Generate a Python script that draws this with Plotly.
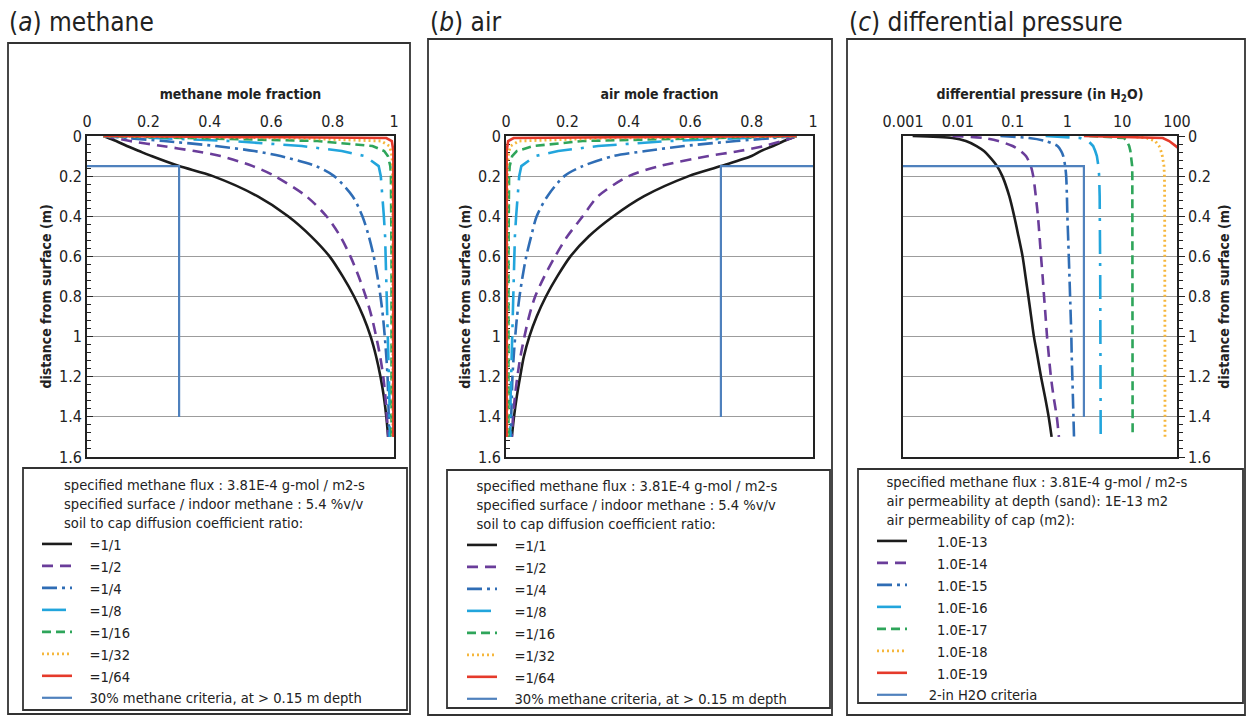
import plotly.graph_objects as go

W, H = 1250, 716

# ---------------- data ----------------
depth = [0, 0.01, 0.025, 0.05, 0.075, 0.1, 0.15, 0.2, 0.3, 0.4, 0.5,
         0.6, 0.7, 0.8, 0.9, 1.0, 1.1, 1.2, 1.3, 1.4, 1.5]

ratio_labels = ["=1/1", "=1/2", "=1/4", "=1/8", "=1/16", "=1/32", "=1/64"]
perm_labels = ["1.0E-13", "1.0E-14", "1.0E-15", "1.0E-16", "1.0E-17", "1.0E-18", "1.0E-19"]

# (a) methane mole fraction
ch4_r1 = [0.054, 0.07, 0.095, 0.13, 0.17, 0.21, 0.30, 0.41, 0.555, 0.655, 0.73,
          0.79, 0.833, 0.87, 0.90, 0.924, 0.942, 0.956, 0.967, 0.975, 0.981]
ch4_r2 = [0.054, 0.09, 0.14, 0.245, 0.35, 0.435, 0.54, 0.612, 0.714, 0.78, 0.825,
          0.858, 0.885, 0.908, 0.927, 0.942, 0.955, 0.965, 0.972, 0.977, 0.981]
ch4_r4 = [0.054, 0.13, 0.25, 0.42, 0.545, 0.63, 0.745, 0.805, 0.865, 0.897, 0.918,
          0.934, 0.946, 0.956, 0.964, 0.97, 0.975, 0.979, 0.981, 0.983, 0.984]
ch4_r8 = [0.054, 0.22, 0.47, 0.70, 0.83, 0.905, 0.95, 0.957, 0.963, 0.967, 0.971,
          0.973, 0.975, 0.977, 0.979, 0.98, 0.982, 0.983, 0.985, 0.986, 0.987]
ch4_r16 = [0.054, 0.36, 0.75, 0.93, 0.968, 0.98, 0.988, 0.99, 0.991, 0.991, 0.992,
           0.992, 0.992, 0.992, 0.992, 0.992, 0.992, 0.992, 0.992, 0.992, 0.992]
ch4_r32 = [0.054, 0.66, 0.958, 0.985, 0.99, 0.993, 0.995, 0.996, 0.996, 0.996, 0.996,
           0.996, 0.996, 0.996, 0.996, 0.996, 0.996, 0.996, 0.996, 0.996, 0.996]
ch4_r64 = [0.054, 0.975, 0.993, 0.996, 0.998, 0.998, 0.998, 0.998, 0.998, 0.998, 0.998,
           0.998, 0.998, 0.998, 0.998, 0.998, 0.998, 0.998, 0.998, 0.998, 0.998]

# (b) air mole fraction
air_r1 = [0.946, 0.93, 0.905, 0.87, 0.83, 0.80, 0.70, 0.595, 0.45, 0.35, 0.27,
          0.21, 0.167, 0.13, 0.10, 0.076, 0.058, 0.046, 0.035, 0.026, 0.019]
air_r2 = [0.946, 0.93, 0.90, 0.84, 0.76, 0.66, 0.50, 0.40, 0.30, 0.25, 0.20,
          0.16, 0.125, 0.095, 0.075, 0.06, 0.047, 0.037, 0.029, 0.023, 0.019]
air_r4 = [0.946, 0.87, 0.75, 0.58, 0.455, 0.35, 0.25, 0.19, 0.135, 0.10, 0.082,
          0.066, 0.054, 0.044, 0.036, 0.03, 0.025, 0.021, 0.019, 0.017, 0.016]
air_r8 = [0.946, 0.78, 0.53, 0.30, 0.17, 0.095, 0.05, 0.043, 0.037, 0.033, 0.029,
          0.027, 0.025, 0.023, 0.021, 0.02, 0.018, 0.017, 0.015, 0.014, 0.013]
air_r16 = [0.946, 0.64, 0.25, 0.09, 0.035, 0.02, 0.012, 0.01, 0.009, 0.009, 0.008,
           0.008, 0.008, 0.008, 0.008, 0.008, 0.008, 0.008, 0.008, 0.008, 0.008]
air_r32 = [0.946, 0.34, 0.042, 0.015, 0.01, 0.007, 0.005, 0.004, 0.004, 0.004, 0.004,
           0.004, 0.004, 0.004, 0.004, 0.004, 0.004, 0.004, 0.004, 0.004, 0.004]
air_r64 = [0.946, 0.025, 0.007, 0.004, 0.002, 0.002, 0.002, 0.002, 0.002, 0.002, 0.002,
           0.002, 0.002, 0.002, 0.002, 0.002, 0.002, 0.002, 0.002, 0.002, 0.002]

# (c) differential pressure (in H2O)
dp_k13 = [0.0015, 0.008, 0.014, 0.022, 0.030, 0.037, 0.052, 0.065, 0.087, 0.107, 0.128,
          0.152, 0.172, 0.194, 0.218, 0.245, 0.285, 0.33, 0.39, 0.455, 0.515]
dp_k14 = [0.008, 0.03, 0.055, 0.10, 0.14, 0.175, 0.215, 0.238, 0.265, 0.29, 0.31,
          0.33, 0.353, 0.375, 0.40, 0.425, 0.46, 0.50, 0.56, 0.64, 0.70]
dp_k15 = [0.06, 0.2, 0.4, 0.66, 0.77, 0.84, 0.91, 0.95, 0.98, 1.0, 1.03,
          1.06, 1.09, 1.12, 1.15, 1.18, 1.2, 1.23, 1.26, 1.29, 1.32]
dp_k16 = [0.4, 1.7, 2.4, 2.95, 3.22, 3.45, 3.68, 3.8, 3.88, 3.93, 3.95,
          3.96, 3.97, 3.98, 3.99, 4.0, 4.01, 4.02, 4.03, 4.04, 4.05]
dp_k17 = [2.5, 10.8, 12.2, 13.4, 14.1, 14.6, 15.2, 15.3, 15.35, 15.4, 15.4,
          15.4, 15.45, 15.45, 15.45, 15.5, 15.5, 15.5, 15.5, 15.5, 15.5]
dp_k18 = [12, 28, 40, 47, 51, 54, 57.8, 59, 59.5, 59.8, 60,
          60.1, 60.1, 60.2, 60.2, 60.2, 60.3, 60.3, 60.3, 60.4, 60.4]
dp_k19 = [2, 55, 72, 97, 125, None, None, None, None, None, None,
          None, None, None, None, None, None, None, None, None, None]

# criteria lines
crit_a_x = [0, 0.3, 0.3]
crit_b_x = [1.0, 0.7, 0.7]
crit_c_x = [0.001, 2, 2]
crit_depth = [0.15, 0.15, 1.4]

# ---------------- styles ----------------
styles = [
    dict(color="#1c1c1c", dash="solid", width=2.6),
    dict(color="#6a3d9a", dash="11px,7px", width=2.6),
    dict(color="#2f6db5", dash="15px,5px,3px,5px", width=2.6),
    dict(color="#22a5dc", dash="24px,9px,3px,9px", width=2.6),
    dict(color="#2ea55a", dash="9px,5px", width=2.6),
    dict(color="#f6b73c", dash="2px,3px", width=2.8),
    dict(color="#e53a2b", dash="solid", width=2.6),
]
smooth = [True, True, True, False, False, False, False]
crit_style = dict(color="#4f81bd", width=2.2)

FONT = "DejaVu Sans Condensed, Liberation Sans, Arial, sans-serif"
TXT = "#222222"
NB = "&nbsp;"

fig = go.Figure()

ch4 = [ch4_r1, ch4_r2, ch4_r4, ch4_r8, ch4_r16, ch4_r32, ch4_r64]
air = [air_r1, air_r2, air_r4, air_r8, air_r16, air_r32, air_r64]
dps = [dp_k13, dp_k14, dp_k15, dp_k16, dp_k17, dp_k18, dp_k19]


def line_of(i):
    d = dict(styles[i])
    if smooth[i]:
        d["shape"] = "spline"
        d["smoothing"] = 0.8
    return d


crit_ab_name = NB * 3 + "30% methane criteria, at &gt; 0.15 m depth"

for i, vals in enumerate(ch4):
    fig.add_trace(go.Scatter(x=vals, y=depth, mode="lines", name=NB * 3 + ratio_labels[i],
                             line=line_of(i), xaxis="x", yaxis="y", legend="legend"))
fig.add_trace(go.Scatter(x=crit_a_x, y=crit_depth, mode="lines", name=crit_ab_name,
                         line=crit_style, xaxis="x", yaxis="y", legend="legend"))

for i, vals in enumerate(air):
    fig.add_trace(go.Scatter(x=vals, y=depth, mode="lines", name=NB * 3 + ratio_labels[i],
                             line=line_of(i), xaxis="x2", yaxis="y2", legend="legend2"))
fig.add_trace(go.Scatter(x=crit_b_x, y=crit_depth, mode="lines", name=crit_ab_name,
                         line=crit_style, xaxis="x2", yaxis="y2", legend="legend2"))

for i, vals in enumerate(dps):
    fig.add_trace(go.Scatter(x=vals, y=depth, mode="lines", name=NB * 6 + perm_labels[i],
                             line=line_of(i), xaxis="x3", yaxis="y3", legend="legend3"))
fig.add_trace(go.Scatter(x=crit_c_x, y=crit_depth, mode="lines", name=NB * 4 + "2-in H2O criteria",
                         line=crit_style, xaxis="x3", yaxis="y3", legend="legend3"))


def px(v):
    return v / W


def py(v):
    return 1 - v / H


ydom = [py(457), py(136)]
common_x = dict(side="top", showgrid=False, zeroline=False, showline=True, mirror=True,
                linecolor="#222", linewidth=1.8, ticks="", ticklabelstandoff=1, automargin=False,
                tickfont=dict(size=16, color=TXT, family=FONT), layer="below traces")
common_y = dict(range=[1.6, 0], dtick=0.2, showgrid=True, gridcolor="#9c9c9c", gridwidth=1.4,
                zeroline=False, showline=True, mirror=True, linecolor="#222", linewidth=1.8,
                automargin=False,
                tickfont=dict(size=16, color=TXT, family=FONT), layer="below traces")
yt_font = dict(size=14, color=TXT, family=FONT)
ytitle = "<b>distance from surface (m)</b>"
xt_font = dict(size=14, color=TXT, family=FONT)

fig.update_layout(
    template="plotly_white",
    xaxis=dict(domain=[px(87), px(394)], range=[0, 1], dtick=0.2, anchor="y",
               title=dict(text="<b>methane mole fraction</b>", font=xt_font, standoff=9),
               **common_x),
    xaxis2=dict(domain=[px(506), px(813)], range=[0, 1], dtick=0.2, anchor="y2",
                title=dict(text="<b>air mole fraction</b>", font=xt_font, standoff=9),
                **common_x),
    xaxis3=dict(domain=[px(903), px(1177)], type="log", range=[-3, 2], anchor="y3",
                tickvals=[0.001, 0.01, 0.1, 1, 10, 100],
                ticktext=["0.001", "0.01", "0.1", "1", "10", "100"],
                title=dict(text="<b>differential pressure (in H<sub>2</sub>O)</b>",
                           font=xt_font, standoff=9),
                **common_x),
    yaxis=dict(domain=ydom, anchor="x", side="left", ticks="inside", ticklen=6, tickcolor="#222",
               minor=dict(dtick=0.04, ticks="inside", ticklen=4, tickcolor="#222", showgrid=False),
               title=dict(text=ytitle, standoff=4, font=yt_font), **common_y),
    yaxis2=dict(domain=ydom, anchor="x2", side="left", ticks="inside", ticklen=6, tickcolor="#222",
                minor=dict(dtick=0.04, ticks="inside", ticklen=4, tickcolor="#222", showgrid=False),
                title=dict(text=ytitle, standoff=4, font=yt_font), **common_y),
    yaxis3=dict(domain=ydom, anchor="x3", side="right", ticks="outside", ticklen=6, tickcolor="#222",
                minor=dict(dtick=0.04, ticks="outside", ticklen=4, tickcolor="#222", showgrid=False),
                title=dict(text=ytitle, standoff=9, font=yt_font), **common_y),
    width=W, height=H,
    margin=dict(l=0, r=0, t=0, b=0, autoexpand=False),
    paper_bgcolor="white", plot_bgcolor="white",
    font=dict(family=FONT, color=TXT, size=14),
    showlegend=True,
)

leg_font = dict(size=14.6, color=TXT, family=FONT)
ind = NB * 6
fig.update_layout(
    legend=dict(x=px(37), y=py(471), xanchor="left", yanchor="top", bgcolor="rgba(0,0,0,0)",
                borderwidth=0, font=leg_font, tracegroupgap=0,
                title=dict(text=ind + "specified methane flux : 3.81E-4 g-mol / m2-s<br>" + ind +
                           "specified surface / indoor methane : 5.4 %v/v<br>" + ind +
                           "soil to cap diffusion coefficient ratio:", font=leg_font)),
    legend2=dict(x=px(462), y=py(472), xanchor="left", yanchor="top", bgcolor="rgba(0,0,0,0)",
                 borderwidth=0, font=leg_font, tracegroupgap=0,
                 title=dict(text=NB * 3 + "specified methane flux : 3.81E-4 g-mol / m2-s<br>" + NB * 3 +
                            "specified surface / indoor methane : 5.4 %v/v<br>" + NB * 3 +
                            "soil to cap diffusion coefficient ratio:", font=leg_font)),
    legend3=dict(x=px(872), y=py(468), xanchor="left", yanchor="top", bgcolor="rgba(0,0,0,0)",
                 borderwidth=0, font=leg_font, tracegroupgap=0,
                 title=dict(text=NB * 3 + "specified methane flux : 3.81E-4 g-mol / m2-s<br>" + NB * 3 +
                            "air permeability at depth (sand): 1E-13 m2<br>" + NB * 3 +
                            "air permeability of cap (m2):", font=leg_font)),
)

# frames
box_line = dict(color="#333", width=1.8)
frames = [
    (8, 43, 410, 714), (428, 39, 832, 715), (847, 39, 1245, 715),   # panel boxes
    (23, 468, 407, 710), (447, 470, 830, 708), (858, 469, 1243, 703),  # legend boxes
]
for x0, y0, x1, y1 in frames:
    fig.add_shape(type="rect", xref="paper", yref="paper", x0=px(x0), x1=px(x1),
                  y0=py(y0), y1=py(y1), line=box_line, fillcolor="rgba(0,0,0,0)", layer="below")

titles = [("(<i>a</i>) methane", 7), ("(<i>b</i>) air", 428), ("(<i>c</i>) differential pressure", 847)]
for t, xpos in titles:
    fig.add_annotation(text=t, xref="paper", yref="paper", x=px(xpos), y=py(22),
                       xanchor="left", yanchor="middle", showarrow=False,
                       font=dict(size=26, color=TXT, family=FONT))

fig.write_html("out.html", config={"displayModeBar": False},
               post_script="document.body.style.margin='0px';document.body.style.overflow='hidden';")
